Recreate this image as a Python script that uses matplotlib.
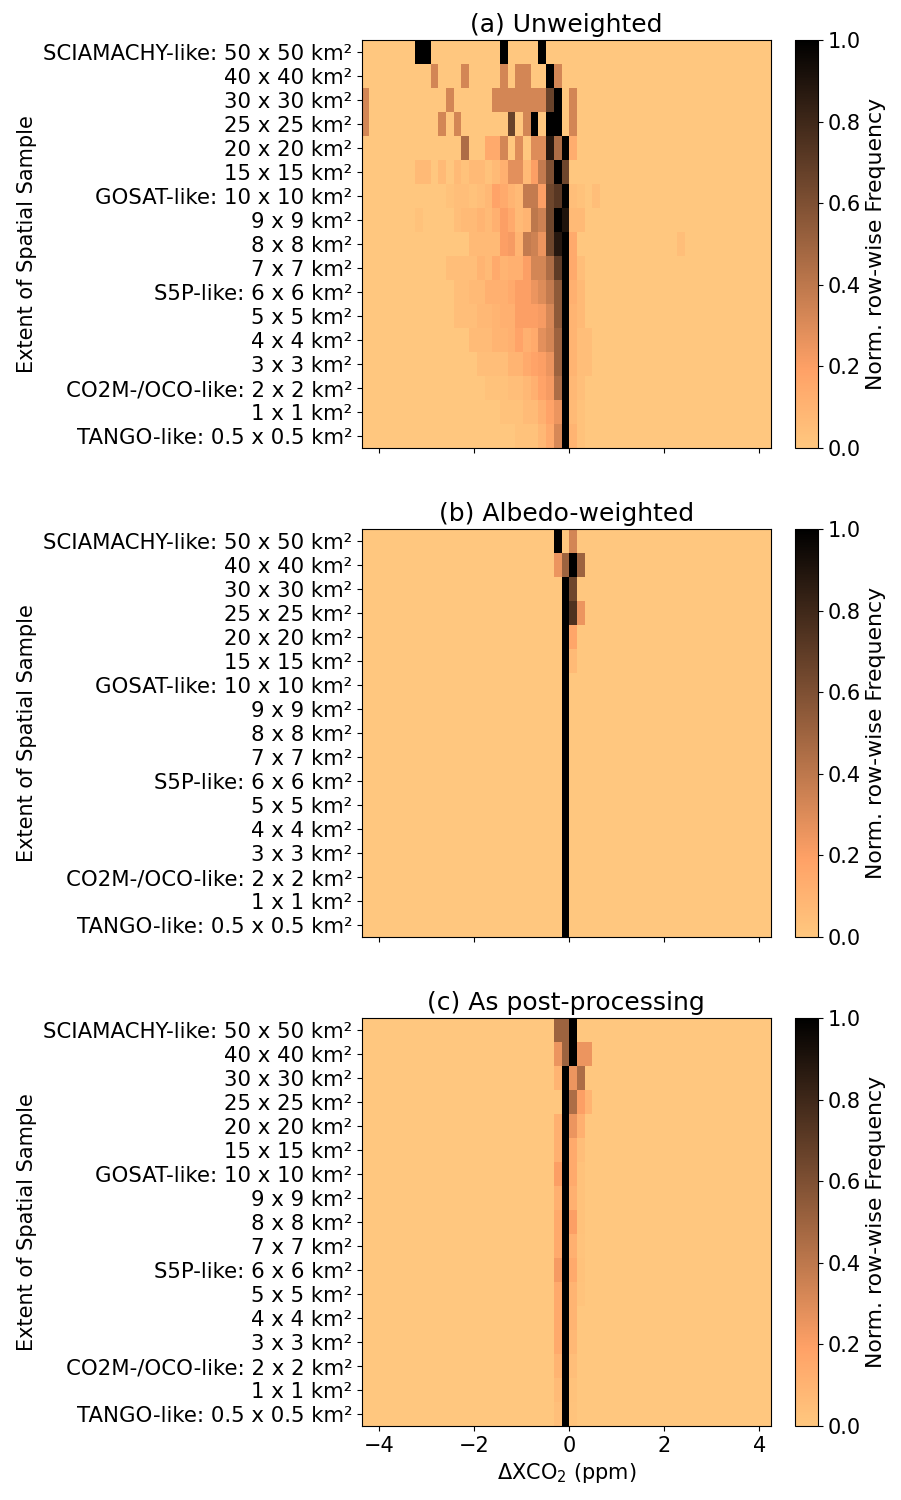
import numpy as np
import matplotlib
matplotlib.use('Agg')
import matplotlib.pyplot as plt

# Row labels (top to bottom)
rows = ['SCIAMACHY-like: 50 x 50 km²', '40 x 40 km²', '30 x 30 km²', '25 x 25 km²',
        '20 x 20 km²', '15 x 15 km²', 'GOSAT-like: 10 x 10 km²', '9 x 9 km²',
        '8 x 8 km²', '7 x 7 km²', 'S5P-like: 6 x 6 km²', '5 x 5 km²', '4 x 4 km²',
        '3 x 3 km²', 'CO2M-/OCO-like: 2 x 2 km²', '1 x 1 km²', 'TANGO-like: 0.5 x 0.5 km²']

# Histogram bins (ppm): bin k spans [k*width, (k+1)*width]
bin_width = 0.162
bin_min, bin_max = -27, 27

# Non-zero normalised frequencies per row: (bin index, value)
unweighted = [
    [(-20, 1), (-19, 1), (-9, 1), (-4, 1)],
    [(-18, .33), (-14, .33), (-9, .33), (-7, .33), (-6, .33), (-3, 1), (-2, .33)],
    [(-27, .33), (-16, .33), (-10, .33), (-9, .33), (-8, .33), (-7, .33), (-6, .33),
     (-5, .33), (-4, .33), (-3, .67), (-2, 1), (0, .33)],
    [(-27, .33), (-17, .33), (-15, .33), (-8, .67), (-6, .33), (-5, 1), (-3, 1),
     (-2, 1), (0, .33)],
    [(-14, .45), (-11, .15), (-10, .15), (-9, .33), (-7, .3), (-5, .3), (-4, .3),
     (-3, .88), (-2, .45), (-1, 1), (0, .13)],
    [(-20, .07), (-19, .07), (-17, .07), (-15, .07), (-14, .03), (-13, .07), (-12, .07),
     (-11, .03), (-10, .07), (-9, .12), (-8, .28), (-7, .28), (-6, .07), (-5, .2),
     (-4, .38), (-3, .6), (-2, 1), (-1, .65)],
    [(-16, .03), (-15, .05), (-14, .05), (-13, .03), (-12, .05), (-11, .08), (-10, .18),
     (-9, .15), (-8, .1), (-7, .07), (-6, .38), (-5, .38), (-4, .2), (-3, .65),
     (-2, .72), (-1, 1), (0, .05), (1, .03), (3, .05)],
    [(-20, .03), (-15, .05), (-14, .07), (-13, .07), (-12, .1), (-11, .07), (-10, .12),
     (-9, .2), (-8, .15), (-7, .07), (-6, .1), (-5, .4), (-4, .35), (-3, .65),
     (-2, 1), (-1, .9), (0, .07), (1, .07)],
    [(-13, .07), (-12, .07), (-11, .07), (-10, .07), (-9, .2), (-8, .22), (-7, .1),
     (-6, .38), (-5, .35), (-4, .25), (-3, .65), (-2, .88), (-1, 1), (0, .15), (14, .05)],
    [(-16, .05), (-15, .05), (-14, .05), (-13, .05), (-12, .1), (-11, .07), (-10, .15),
     (-9, .1), (-8, .12), (-7, .12), (-6, .2), (-5, .33), (-4, .33), (-3, .45),
     (-2, .7), (-1, 1), (0, .15), (1, .05)],
    [(-15, .05), (-14, .05), (-13, .07), (-12, .07), (-11, .12), (-10, .12), (-9, .12),
     (-8, .15), (-7, .2), (-6, .2), (-5, .25), (-4, .3), (-3, .38), (-2, .55),
     (-1, 1), (0, .12), (1, .07)],
    [(-15, .05), (-14, .05), (-13, .05), (-12, .08), (-11, .08), (-10, .1), (-9, .12),
     (-8, .12), (-7, .2), (-6, .2), (-5, .2), (-4, .22), (-3, .32), (-2, .55),
     (-1, 1), (0, .1), (1, .07)],
    [(-13, .06), (-12, .06), (-11, .06), (-10, .1), (-9, .1), (-8, .12), (-7, .18),
     (-6, .12), (-5, .15), (-4, .28), (-3, .33), (-2, .5), (-1, 1), (0, .1), (1, .05),
     (2, .05)],
    [(-12, .05), (-11, .05), (-10, .05), (-9, .05), (-8, .1), (-7, .1), (-6, .15),
     (-5, .18), (-4, .2), (-3, .25), (-2, .5), (-1, 1), (0, .1), (1, .05), (2, .05)],
    [(-11, .03), (-10, .03), (-9, .03), (-8, .05), (-7, .05), (-6, .08), (-5, .12),
     (-4, .18), (-3, .22), (-2, .45), (-1, 1), (0, .08), (1, .04)],
    [(-9, .03), (-8, .03), (-7, .03), (-6, .06), (-5, .06), (-4, .12), (-3, .18),
     (-2, .25), (-1, 1), (0, .07), (1, .03)],
    [(-7, .03), (-6, .03), (-5, .03), (-4, .08), (-3, .15), (-2, .32), (-1, 1),
     (0, .1), (1, .03)],
]

albedo_weighted = [
    [(-2, 1), (0, .33)],
    [(-2, .25), (-1, .5), (0, 1), (1, .5)],
    [(-1, 1), (0, .65)],
    [(-1, 1), (0, .75), (1, .25)],
    [(-1, 1), (0, .17)],
    [(-1, 1), (0, .07)],
] + [[(-1, 1)] for _ in range(11)]

post_processing = [
    [(-2, .5), (-1, .5), (0, 1)],
    [(-2, .25), (-1, .5), (0, 1), (1, .25), (2, .25)],
    [(-2, .1), (-1, 1), (0, .25), (1, .45)],
    [(-1, 1), (0, .45), (1, .2), (2, .1)],
    [(-2, .12), (-1, 1), (0, .25), (1, .12)],
    [(-2, .12), (-1, 1), (0, .15), (1, .05)],
    [(-2, .2), (-1, 1), (0, .15), (1, .03)],
    [(-2, .12), (-1, 1), (0, .12), (1, .03)],
    [(-2, .15), (-1, 1), (0, .2), (1, .03)],
    [(-2, .15), (-1, 1), (0, .12), (1, .02)],
    [(-2, .22), (-1, 1), (0, .15), (1, .03)],
    [(-2, .15), (-1, 1), (0, .1), (1, .02)],
    [(-2, .15), (-1, 1), (0, .1)],
    [(-2, .15), (-1, 1), (0, .08)],
    [(-2, .1), (-1, 1), (0, .05)],
    [(-2, .06), (-1, 1), (0, .03)],
    [(-2, .04), (-1, 1), (0, .02)],
]

titles = ['(a) Unweighted', '(b) Albedo-weighted', '(c) As post-processing']


def to_grid(entries):
    grid = np.zeros((len(rows), bin_max - bin_min))
    for i, row in enumerate(entries):
        for k, v in row:
            grid[i, k - bin_min] = v
    return grid


def main():
    plt.rcParams['font.size'] = 15
    fig = plt.figure(figsize=(9.01, 15), dpi=100)
    edges = bin_width * np.arange(bin_min, bin_max + 1)
    yedges = np.arange(len(rows) + 1) - 0.5
    bottoms = [0.7013, 0.3753, 0.0493]
    for j, (data, title) in enumerate(zip([unweighted, albedo_weighted, post_processing], titles)):
        ax = fig.add_axes([0.4018, bottoms[j], 0.4536, 0.272])
        cax = fig.add_axes([0.8824, bottoms[j], 0.025, 0.272])
        mesh = ax.pcolormesh(edges, yedges, to_grid(data), cmap='copper_r', vmin=0, vmax=1)
        ax.set_xlim(-4.36, 4.24)
        ax.set_ylim(len(rows) - 0.5, -0.5)
        ax.set_yticks(np.arange(len(rows)))
        ax.set_yticklabels(rows, fontsize=15.3)
        ax.set_xticks([-4, -2, 0, 2, 4])
        ax.set_ylabel('Extent of Spatial Sample')
        ax.set_title(title, fontsize=18)
        if j < 2:
            ax.set_xticklabels([])
        else:
            ax.set_xlabel(r'$\Delta$XCO$_2$ (ppm)')
        cb = fig.colorbar(mesh, cax=cax)
        cb.set_label('Norm. row-wise Frequency', fontsize=15.8)
        cb.set_ticks([0, 0.2, 0.4, 0.6, 0.8, 1.0])
    fig.savefig('out.png', dpi=100)


if __name__ == "__main__":
    main()
